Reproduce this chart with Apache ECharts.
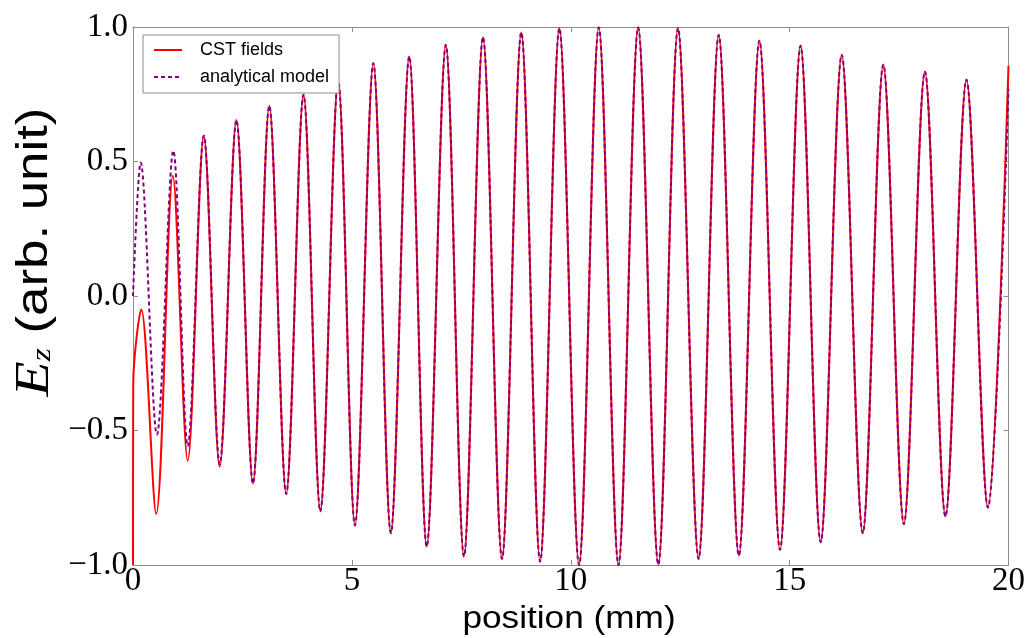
<!DOCTYPE html>
<html>
<head>
<meta charset="utf-8">
<script src="https://cdn.jsdelivr.net/npm/echarts@6/dist/echarts.min.js"></script>
<style>
html,body{margin:0;padding:0;background:#fff;}
#c{width:1028px;height:638px;}
</style>
</head>
<body>
<div id="c"></div>
<script>
// ---- data (extrema of the oscillation, position in mm) ----
const xTicks = [0, 5, 10, 15, 20];
const yTicks = [-1.0, -0.5, 0.0, 0.5, 1.0];
const seriesNames = ['CST fields', 'analytical model'];
const xTitle = 'position (mm)';
const yTitleUnit = ' (arb. unit)';

const cstX = [0, 0.005, 0.19, 0.53, 0.91, 1.25, 1.617, 1.98, 2.362, 2.74, 3.114, 3.50, 3.895, 4.28, 4.686, 5.07,
  5.49, 5.89, 6.31, 6.71, 7.146, 7.56, 7.995, 8.43, 8.87, 9.30, 9.74, 10.19, 10.64, 11.09, 11.54, 12.0,
  12.45, 12.92, 13.38, 13.84, 14.31, 14.78, 15.25, 15.71, 16.19, 16.67, 17.14, 17.61, 18.09, 18.56, 19.04, 19.53, 20.0];
const cstY = [-1.0, -0.33, -0.05, -0.81, 0.447, -0.612, 0.596, -0.635, 0.654, -0.697, 0.707, -0.736, 0.748, -0.80, 0.80, -0.853,
  0.865, -0.881, 0.89, -0.931, 0.933, -0.968, 0.962, -0.977, 0.98, -0.987, 0.995, -1.0, 0.998, -1.0, 0.998, -0.998,
  0.995, -0.977, 0.97, -0.965, 0.949, -0.943, 0.93, -0.915, 0.896, -0.881, 0.86, -0.848, 0.834, -0.819, 0.804, -0.786, 0.856];

const modelX = [0, 0.175, 0.547, 0.92, 1.25, 1.617, 1.98, 2.362, 2.74, 3.114, 3.50, 3.895, 4.28, 4.686, 5.07,
  5.49, 5.89, 6.31, 6.71, 7.146, 7.56, 7.995, 8.43, 8.87, 9.30, 9.74, 10.19, 10.64, 11.09, 11.54, 12.0,
  12.45, 12.92, 13.38, 13.84, 14.31, 14.78, 15.25, 15.71, 16.19, 16.67, 17.14, 17.61, 18.09, 18.56, 19.04, 19.53, 20.0];
const modelY = [0.0, 0.496, -0.515, 0.54, -0.558, 0.596, -0.625, 0.654, -0.697, 0.707, -0.736, 0.748, -0.80, 0.80, -0.853,
  0.865, -0.881, 0.89, -0.931, 0.933, -0.968, 0.962, -0.977, 0.98, -0.987, 0.995, -1.0, 0.998, -1.0, 0.998, -0.998,
  0.995, -0.977, 0.97, -0.965, 0.949, -0.943, 0.93, -0.915, 0.896, -0.881, 0.86, -0.848, 0.834, -0.819, 0.804, -0.786, 0.77];

// ---- chart ----
const pairs = (xs, ys) => xs.map((x, i) => [x, ys[i]]);
const fmtY = v => (v < 0 ? '\u2212' : '') + Math.abs(v).toFixed(1);
const frame = '#8c8c8c';
const serif = "'Liberation Serif', 'DejaVu Serif', serif";
const sans = "'Liberation Sans', Arial, sans-serif";

const chart = echarts.init(document.getElementById('c'), null, {renderer: 'canvas'});

const axisCommon = {
  type: 'value',
  splitLine: {show: false},
  axisLine: {show: true, onZero: false, lineStyle: {color: frame, width: 1}},
  axisTick: {show: true, inside: true, length: 5, lineStyle: {color: frame}}
};

chart.setOption({
  backgroundColor: '#fff',
  animation: false,
  grid: {left: 133, right: 17, top: 27, bottom: 73, containLabel: false},
  xAxis: [
    Object.assign({}, axisCommon, {
      position: 'bottom', min: xTicks[0], max: xTicks[xTicks.length - 1], interval: 5,
      axisLabel: {fontFamily: serif, fontSize: 33, color: '#000', margin: 0,
        formatter: v => String(v)}
    }),
    Object.assign({}, axisCommon, {
      position: 'top', min: xTicks[0], max: xTicks[xTicks.length - 1], interval: 5,
      axisLabel: {show: false}
    })
  ],
  yAxis: [
    Object.assign({}, axisCommon, {
      position: 'left', min: yTicks[0], max: yTicks[yTicks.length - 1], interval: 0.5,
      axisLabel: {fontFamily: serif, fontSize: 33, color: '#000', margin: 5, formatter: fmtY}
    }),
    Object.assign({}, axisCommon, {
      position: 'right', min: yTicks[0], max: yTicks[yTicks.length - 1], interval: 0.5,
      axisLabel: {show: false}
    })
  ],
  legend: {
    data: seriesNames,
    orient: 'vertical',
    left: 143, top: 35,
    itemWidth: 28, itemHeight: 12, itemGap: 9,
    padding: [6, 10, 7, 10],
    borderColor: frame, borderWidth: 1, borderRadius: 0,
    backgroundColor: '#fff',
    itemStyle: {opacity: 0},
    textStyle: {fontFamily: sans, fontSize: 18, color: '#000', padding: [0, 0, 0, 13]}
  },
  graphic: [
    {
      type: 'text',
      x: 569, y: 619,
      scaleX: 1.1,
      style: {
        text: xTitle,
        font: '32px ' + sans,
        fill: '#000',
        align: 'center',
        verticalAlign: 'middle'
      }
    },
    {
      type: 'text',
      x: 35, y: 252,
      rotation: Math.PI / 2,
      scaleX: 1.2,
      style: {
        text: '{e|E}{z|z}' + yTitleUnit,
        font: '44px ' + sans,
        fill: '#000',
        align: 'center',
        verticalAlign: 'middle',
        rich: {
          e: {fontFamily: serif, fontStyle: 'italic', fontSize: 48},
          z: {fontFamily: serif, fontStyle: 'italic', fontSize: 28, padding: [16, 0, 0, 0]}
        }
      }
    }
  ],
  series: [
    {
      name: seriesNames[0], type: 'line', data: pairs(cstX, cstY),
      symbol: 'none', smooth: 0.33, color: '#ff0000',
      lineStyle: {color: '#ff0000', width: 2}, z: 2
    },
    {
      name: seriesNames[1], type: 'line', data: pairs(modelX, modelY),
      symbol: 'none', smooth: 0.33, color: '#800080',
      lineStyle: {color: '#800080', width: 2, type: [4, 3]}, z: 3
    }
  ]
});
</script>
</body>
</html>
